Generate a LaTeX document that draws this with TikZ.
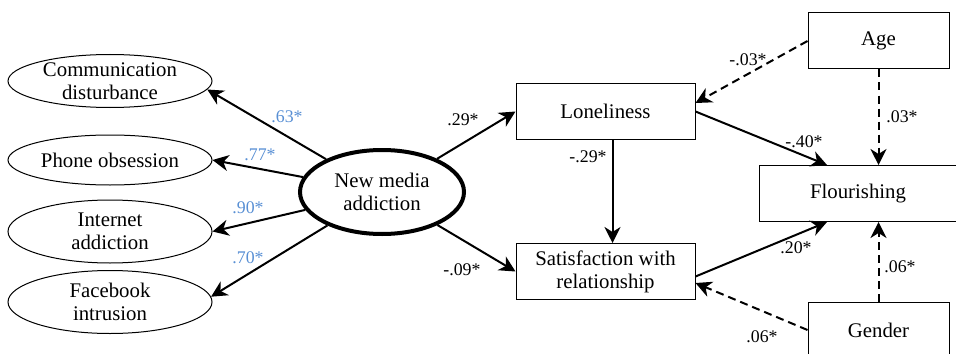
\documentclass[tikz,border=0pt]{standalone}
\usepackage{fontspec}
\setmainfont{Liberation Serif}
\usepackage{xcolor}
\usetikzlibrary{positioning,arrows.meta,shapes.geometric}
\definecolor{loadblue}{RGB}{88,143,212}

\begin{document}
\begin{tikzpicture}[
  x=0.5pt, y=-0.5pt,
  indic/.style={draw, ellipse, line width=0.5pt, minimum width=102pt, minimum height=27pt, inner sep=0pt, align=center, font=\fontsize{10.4}{11.6}\selectfont},
  latent/.style={draw, ellipse, line width=2pt, minimum width=82pt, minimum height=42pt, inner sep=0pt, align=center, font=\fontsize{10.4}{11.6}\selectfont},
  var/.style={draw, line width=0.5pt, minimum width=89.5pt, minimum height=28pt, inner sep=0pt, align=center, font=\fontsize{10.4}{11.6}\selectfont},
  ctrl/.style={draw, line width=0.5pt, minimum width=70.5pt, minimum height=28pt, inner sep=0pt, align=center, font=\fontsize{10.4}{11.6}\selectfont},
  path/.style={line width=1pt, -{Stealth[length=8pt, width=8pt, inset=2.5pt]}},
  cpath/.style={path, dash pattern=on 4pt off 2.5pt},
  coef/.style={font=\fontsize{8.9}{9.5}\selectfont, inner sep=0pt},
  load/.style={coef, text=loadblue}
]
\clip (0,0) rectangle (956,353);

\node[indic, minimum height=26.5pt] (comm) at (110,81) {Communication\\disturbance};
\node[indic, minimum height=25pt] (phone) at (110,160) {Phone obsession};
\node[indic, minimum height=31.5pt] (inet) at (110,231.5) {Internet\\addiction};
\node[indic, minimum height=31.5pt] (fb) at (110,302) {Facebook\\intrusion};

\node[latent] (nma) at (382,192) {New media\\addiction};

\node[var] (lone) at (605.5,111.5) {Loneliness};
\node[var] (sat) at (605.5,271.5) {Satisfaction with\\relationship};
\node[var, minimum width=99pt] (flour) at (858,193.5) {Flourishing};

\node[ctrl] (age) at (878.5,41) {Age};
\node[ctrl] (gender) at (878.5,330) {Gender};

% measurement part
\draw[path] (nma) -- (comm.-5);
\draw[path] (nma) -- (phone.east);
\draw[path] (nma) -- (inet.east);
\draw[path] (nma) -- (fb.3);
\node[load] at (287,117) {.63*};
\node[load] at (260,155) {.77*};
\node[load] at (248,208) {.90*};
\node[load] at (248,258) {.70*};

% structural part
\draw[path] (nma) -- (lone.west);
\draw[path] (nma) -- (sat.west);
\draw[path] ([xshift=3.5pt]lone.south) -- ([xshift=3.5pt]sat.north);
\draw[path] (lone.east) -- ([xshift=-15.5pt]flour.north);
\draw[path] ([yshift=-2.5pt]sat.east) -- ([xshift=-15.5pt]flour.south);
\node[coef] at (463,120) {.29*};
\node[coef] at (462,270) {-.09*};
\node[coef] at (588,157) {-.29*};
\node[coef] at (804,142) {-.40*};
\node[coef] at (796,248) {.20*};

% controls
\draw[cpath] (age.west) -- ([yshift=4.25pt]lone.east);
\draw[cpath] (age.south) -- (age.south |- flour.north);
\draw[cpath] (gender.north) -- (gender.north |- flour.south);
\draw[cpath] (gender.west) -- ([yshift=-5.75pt]sat.east);
\node[coef] at (748,60) {-.03*};
\node[coef] at (902,117) {.03*};
\node[coef] at (900,267) {.06*};
\node[coef] at (762,337) {.06*};

\end{tikzpicture}
\end{document}
